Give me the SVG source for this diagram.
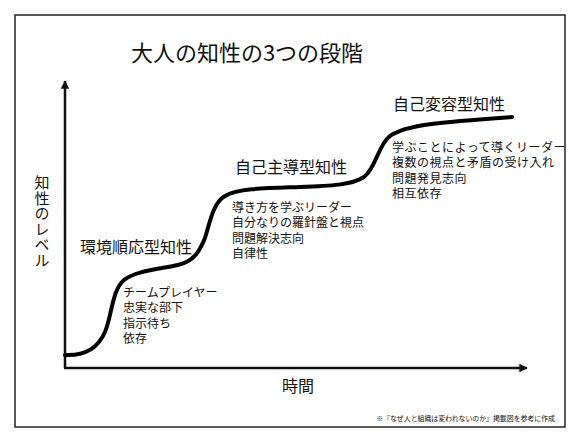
<svg xmlns="http://www.w3.org/2000/svg" width="580" height="435" viewBox="0 0 580 435">
<style>
text { font-family: "Noto Sans CJK JP", "Noto Sans", sans-serif; fill: #111; }
.title { font-size: 22px; }
.stage { font-size: 16px; }
.item { font-size: 12px; }
.item-wide { font-size: 12px; letter-spacing: 0.5px; }
.axis-label { font-size: 15px; writing-mode: vertical-rl; letter-spacing: 0.5px; }
.note { font-size: 6.9px; }
.axis { stroke: #111; stroke-width: 2.5; fill: none; }
.curve { stroke: #000; stroke-width: 4; fill: none; stroke-linecap: round; }
</style>
<defs>
<marker id="arrow" viewBox="0 0 10 10" refX="9" refY="5" markerWidth="3.4" markerHeight="3.4" orient="auto" markerUnits="strokeWidth">
<path d="M0,0 L10,5 L0,10 z" fill="#111"/>
</marker>
</defs>
<rect x="0" y="0" width="580" height="435" fill="#fff"/>
<rect id="frame" x="15" y="15" width="550" height="412" fill="none" stroke="#222" stroke-width="1.5"/>
<text class="title" x="247" y="61" text-anchor="middle">大人の知性の3つの段階</text>
<g id="connectors">
<path class="axis" d="M65,368 L65,81" marker-end="url(#arrow)"/>
<path class="axis" d="M64,368 L527,368" marker-end="url(#arrow)"/>
<path class="curve" d="M65,355 C85,356 98,348 105,332 C112,315 112,290 124,280 C135,271 160,269 178,265 C195,261 200,250 205,238 C210,222 213,203 225,196 C238,188 270,188 300,187 C330,186 352,185 364,177 C376,168 378,145 390,136 C405,125 440,122 512,117"/>
</g>
<g id="y-label">
<text class="axis-label" x="42" y="175">知性のレベル</text>
</g>
<g id="x-label">
<text class="stage" x="282" y="392">時間</text>
</g>
<g id="stage1">
<text class="stage" x="80" y="253">環境順応型知性</text>
<text class="item" x="123"><tspan x="123" y="296.5">チームプレイヤー</tspan><tspan x="123" y="312">忠実な部下</tspan><tspan x="123" y="327.5">指示待ち</tspan><tspan x="123" y="343">依存</tspan></text>
</g>
<g id="stage2">
<text class="stage" x="235" y="173">自己主導型知性</text>
<text class="item" x="232"><tspan x="232" y="211.5">導き方を学ぶリーダー</tspan><tspan x="232" y="227">自分なりの羅針盤と視点</tspan><tspan x="232" y="242.5">問題解決志向</tspan><tspan x="232" y="258">自律性</tspan></text>
</g>
<g id="stage3">
<text class="stage" x="393" y="110">自己変容型知性</text>
<text class="item-wide" x="392"><tspan x="392" y="151.5">学ぶことによって導くリーダー</tspan><tspan x="392" y="167">複数の視点と矛盾の受け入れ</tspan><tspan x="392" y="182.5">問題発見志向</tspan><tspan x="392" y="198">相互依存</tspan></text>
</g>
<text class="note" x="555" y="421" text-anchor="end">※『なぜ人と組織は変われないのか』掲載図を参考に作成</text>
</svg>
